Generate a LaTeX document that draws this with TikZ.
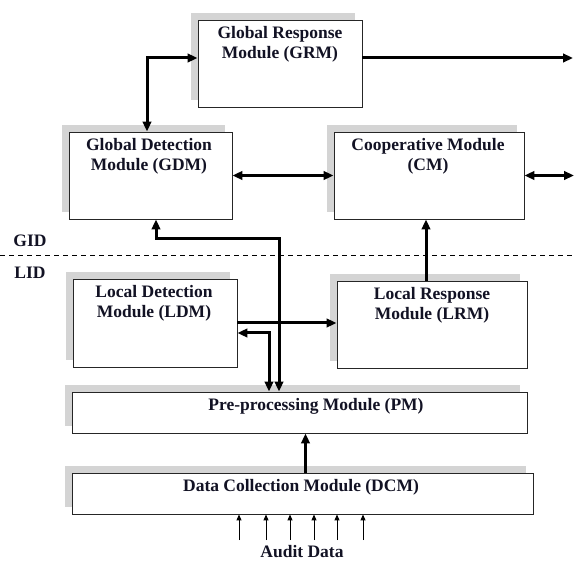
\documentclass[tikz,border=0pt]{standalone}
\usepackage{fontspec}
\setmainfont{Liberation Serif}
\usetikzlibrary{arrows.meta,shadows}
\definecolor{txt}{RGB}{18,18,36}
\definecolor{shd}{RGB}{212,212,212}
\begin{document}
\begin{tikzpicture}[x=1pt,y=-1pt,
  box/.style={draw=black!85,line width=0.9pt,fill=white,inner sep=0pt,
    drop shadow={shadow xshift=-7pt,shadow yshift=7pt,fill=shd,opacity=1}},
  lbl/.style={font=\fontsize{17.5}{20}\selectfont\bfseries,text=txt,align=center,inner sep=0pt},
  arr/.style={line width=3pt,-{Triangle[length=10pt,width=8.5pt]}},
  bi/.style={line width=3pt,{Triangle[length=10pt,width=8.5pt]}-{Triangle[length=10pt,width=8.5pt]}},
  thinarr/.style={line width=1pt,-{Triangle[length=6pt,width=5pt]}}]
\useasboundingbox (0,0) rectangle (576,561);
% boxes
\node[box,minimum width=164pt,minimum height=87pt] (grm) at (280,63.5) {};
\node[box,minimum width=163pt,minimum height=87pt] (gdm) at (150.5,175.5) {};
\node[box,minimum width=190pt,minimum height=87pt] (cm) at (429,175.5) {};
\node[box,minimum width=164pt,minimum height=88pt] (ldm) at (155,323) {};
\node[box,minimum width=190pt,minimum height=87pt] (lrm) at (432,324.5) {};
\node[box,minimum width=455pt,minimum height=41pt] (pm) at (299.5,412.5) {};
\node[box,minimum width=461pt,minimum height=41pt] (dcm) at (302.5,493.5) {};
% labels
\node[lbl] (grmt) at (280,44) {Global Response\\Module (GRM)};
\node[lbl] (gdmt) at (149,156) {Global Detection\\Module (GDM)};
\node[lbl] (cmt) at (428,156) {Cooperative Module\\(CM)};
\node[lbl] (ldmt) at (154,303.5) {Local Detection\\Module (LDM)};
\node[lbl] (lrmt) at (432,305) {Local Response\\Module (LRM)};
\node[lbl] (pmt) at (316,406) {Pre-processing Module (PM)};
\node[lbl] (dcmt) at (301,487) {Data Collection Module (DCM)};
\node[lbl] (audit) at (302,552) {Audit Data};
\node[lbl] (gid) at (30,241) {GID};
\node[lbl] (lid) at (30,273) {LID};
% dashed separator
\coordinate (dl) at (0,255);
\coordinate (dr) at (576,255);
\draw[line width=0.9pt,dash pattern=on 5pt off 4pt] (dl) -- (dr);
% connectors
\coordinate (o1) at (573,58);
\coordinate (o2) at (574,175.5);
\draw[bi] ([xshift=-3.5pt]gdm.north) |- ([yshift=5.5pt]grm.west);
\draw[arr] ([yshift=5.5pt]grm.east) -- (o1);
\draw[bi] (gdm.east) -- (cm.west);
\draw[bi] (cm.east) -- (o2);
\draw[arr] ([xshift=-6pt]lrm.north) -- ([xshift=-6pt]lrm.north |- cm.south);
\draw[arr] (ldm.east) -- (ldm.east -| lrm.west);
\draw[bi] ([yshift=-10pt]ldm.east) -| ([xshift=-30.5pt]pm.north);
\draw[bi] ([xshift=5.5pt]gdm.south) -- ++(0,19) -| ([xshift=-20.5pt]pm.north);
\draw[arr] ([xshift=6pt]pm.south |- dcm.north) -- ([xshift=6pt]pm.south);
% audit data arrows
\foreach \i/\x in {1/239,2/266,3/290,4/314,5/337,6/363}{
  \coordinate (a\i) at (\x,540);
  \draw[thinarr] (a\i) -- (a\i |- dcm.south);
}
\end{tikzpicture}
\end{document}
